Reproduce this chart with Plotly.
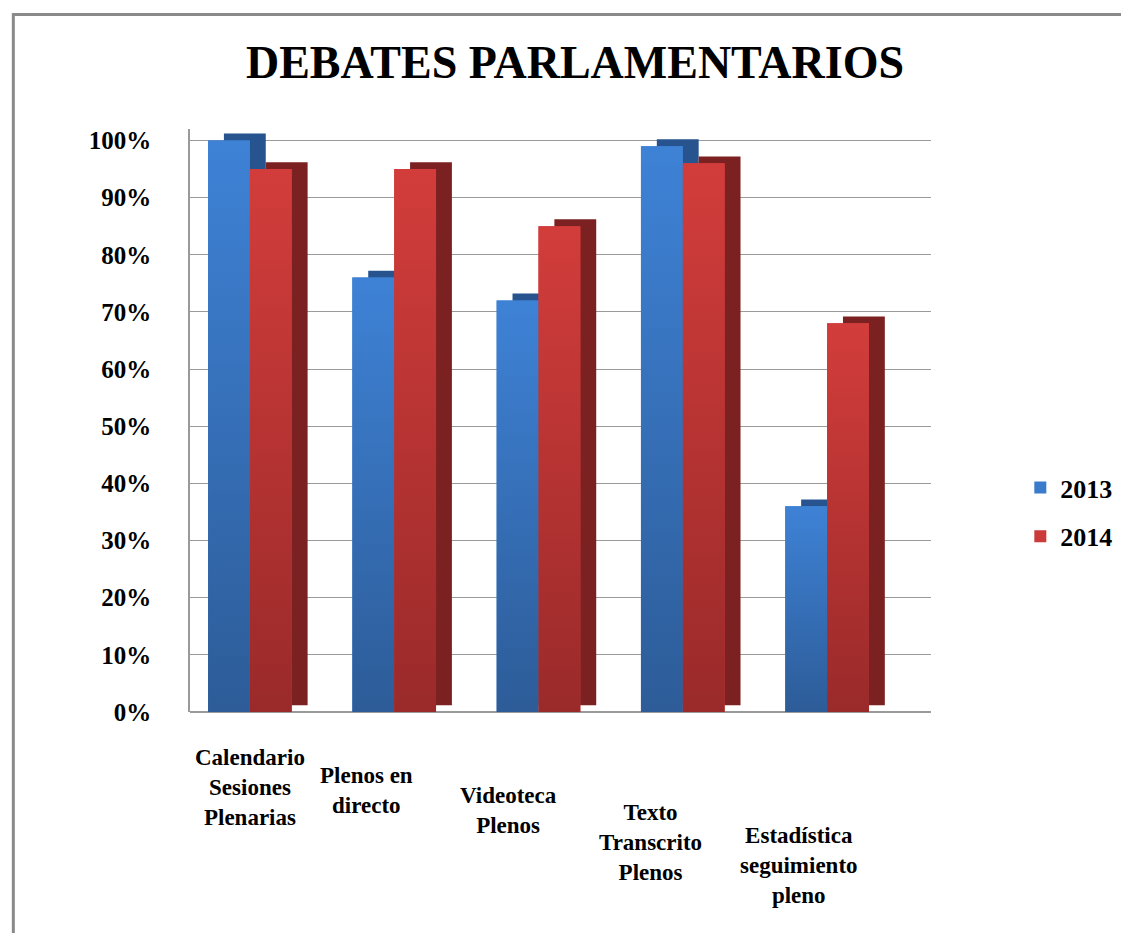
import plotly.graph_objects as go

categories = ["Calendario<br>Sesiones<br>Plenarias", "Plenos en<br>directo", "Videoteca<br>Plenos",
              "Texto<br>Transcrito<br>Plenos", "Estadística<br>seguimiento<br>pleno"]
series_names = ["2013", "2014"]
values_2013 = [1.00, 0.76, 0.72, 0.99, 0.36]
values_2014 = [0.95, 0.95, 0.85, 0.96, 0.68]
y_ticks = [0, 0.1, 0.2, 0.3, 0.4, 0.5, 0.6, 0.7, 0.8, 0.9, 1.0]

FONT = "Liberation Serif"
front_colors = ["#3b7bcb", "#cb3b39"]
front_top = ["#3e82d6", "#d23d3b"]
front_bottom = ["#2d5c98", "#9a2a2a"]
back_colors = ["#27548f", "#7c2121"]

# page has an 8px body margin: figure pixel = screen pixel - 8
OFF = 8
W, H = 1121, 925
L, R_edge = 190 - OFF, 945 - OFF
T_px, B_px = 128.6 - OFF, 712 - OFF
plot_w = R_edge - L
plot_h = B_px - T_px

bar_w = 0.29
depth_x = 0.11
depth_y = 0.012

xpos = list(range(len(categories)))

fig = go.Figure()
for i, (name, vals) in enumerate(zip(series_names, [values_2013, values_2014])):
    off = -bar_w if i == 0 else 0.0
    fig.add_trace(go.Bar(
        x=xpos, y=vals, base=[depth_y] * len(vals),
        width=bar_w, offset=off + depth_x,
        marker=dict(color=back_colors[i], line=dict(width=0)),
        showlegend=False, hoverinfo="skip", name=name + " depth"))
    fig.add_trace(go.Bar(
        x=xpos, y=vals, width=bar_w, offset=off, name=name,
        marker=dict(color=front_colors[i], line=dict(width=0)),
        legendgroup=name))

# gradient overlay on the front faces (same geometry as the bars)
for i, vals in enumerate([values_2013, values_2014]):
    off = -bar_w if i == 0 else 0.0
    for xp, v in zip(xpos, vals):
        x0, x1 = xp + off, xp + off + bar_w
        fig.add_trace(go.Scatter(
            x=[x0, x1, x1, x0, x0], y=[0, 0, v, v, 0], mode="lines",
            line=dict(width=0), fill="toself",
            fillgradient=dict(type="vertical", start=0, stop=v,
                              colorscale=[[0, front_bottom[i]], [1, front_top[i]]]),
            showlegend=False, hoverinfo="skip"))

def px_to_paper_x(px):
    return (px - OFF - L) / plot_w

def px_to_paper_y(py):
    return (B_px - (py - OFF)) / plot_h

label_tops = [743, 761, 781, 798, 821]
label_shift = [0, -28, -30, -32, -28]
for xp, cat, top, sh in zip(xpos, categories, label_tops, label_shift):
    fig.add_annotation(x=xp, y=px_to_paper_y(top), xref="x", yref="paper",
                       text=cat, showarrow=False, yanchor="top", xanchor="center",
                       xshift=sh, align="center",
                       font=dict(family=FONT, size=23, color="black", weight="bold"))

fig.add_shape(type="rect", xref="paper", yref="paper",
              x0=px_to_paper_x(10), x1=px_to_paper_x(1160),
              y0=px_to_paper_y(960), y1=px_to_paper_y(14),
              line=dict(color="#8a8a8a", width=3), layer="below")

fig.update_layout(
    width=W, height=H,
    margin=dict(l=L, r=W - R_edge, t=T_px, b=H - B_px, pad=0),
    paper_bgcolor="white", plot_bgcolor="white",
    barmode="overlay",
    title=dict(text="DEBATES PARLAMENTARIOS", x=(575 - OFF) / W, xref="container", xanchor="center",
               y=1 - (62 - OFF) / H, yref="container", yanchor="middle",
               font=dict(family=FONT, size=46, color="black", weight="bold")),
    xaxis=dict(range=[-0.415, 4.72], showticklabels=False,
               showgrid=False, zeroline=False, showline=False, ticks=""),
    yaxis=dict(range=[0, 1.02], tickvals=y_ticks, tickformat=".0%",
               showgrid=True, gridcolor="#9a9a9a", gridwidth=1.3,
               showline=True, linecolor="#9a9a9a", linewidth=1.5,
               zeroline=True, zerolinecolor="#9a9a9a", zerolinewidth=1.5,
               ticks="", ticklabelstandoff=32,
               tickfont=dict(family=FONT, size=25, color="black", weight="bold")),
    legend=dict(x=px_to_paper_x(1036), y=px_to_paper_y(512), xanchor="left", yanchor="middle",
                xref="paper", yref="paper", traceorder="grouped", tracegroupgap=12,
                font=dict(family=FONT, size=26, color="black", weight="bold"),
                bgcolor="rgba(0,0,0,0)"),
    showlegend=True,
)

fig.write_html("out.html")
